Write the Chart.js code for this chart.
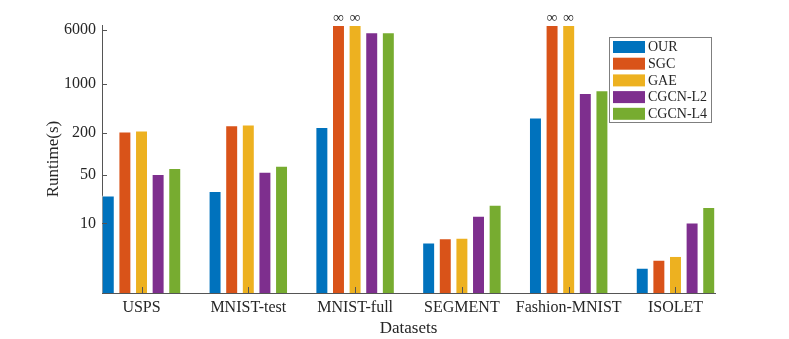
<!DOCTYPE html>
<html>
  <head>
    <meta charset="utf-8" />
    <title>Runtime by dataset</title>
    <style>
      html, body { margin: 0; padding: 0; background: #fff; }
      #wrap { width: 789px; height: 339px; }
    </style>
  </head>
  <body>
    <div id="wrap"><canvas id="screen"></canvas></div>
    <script src="https://cdn.jsdelivr.net/npm/chart.js@4/dist/chart.umd.min.js"></script>
    <script>
      // values (seconds); INF = bar drawn to the top with an ∞ mark
      const INF = Infinity;
      const categories = ["USPS", "MNIST-test", "MNIST-full", "SEGMENT", "Fashion-MNIST", "ISOLET"];
      const seriesNames = ["OUR", "SGC", "GAE", "CGCN-L2", "CGCN-L4"];
      const ourRuntime = [25, 29, 240, 5.3, 330, 2.3];
      const sgcRuntime = [207, 255, INF, 6.1, INF, 3.0];
      const gaeRuntime = [214, 261, INF, 6.2, INF, 3.4];
      const cgcnL2Runtime = [51, 55, 5500, 12.8, 740, 10.3];
      const cgcnL4Runtime = [62, 67, 5500, 18.4, 810, 17.2];
      const yTicks = [10, 50, 200, 1000, 6000];
      const yMin = 1;
      const yMax = 7000;

      const seriesValues = [ourRuntime, sgcRuntime, gaeRuntime, cgcnL2Runtime, cgcnL4Runtime];
      const seriesColors = ["#0072BD", "#D95319", "#EDB120", "#7E2F8E", "#77AC30"];

      const FONT = "'Liberation Serif', 'Times New Roman', serif";
      const INK = "#262626";
      const AXIS = "#555555";

      // inward tick marks, ∞ marks and the boxed legend
      const matlabBits = {
        id: "matlabBits",
        afterDatasetsDraw(chart) {
          const ctx = chart.ctx;
          const area = chart.chartArea;
          const xs = chart.scales.x;
          const ys = chart.scales.y;
          ctx.save();
          ctx.strokeStyle = AXIS;
          ctx.lineWidth = 1;
          ctx.beginPath();
          yTicks.forEach(v => {
            const py = Math.round(ys.getPixelForValue(v)) + 0.5;
            ctx.moveTo(area.left, py);
            ctx.lineTo(area.left + 5, py);
          });
          categories.forEach((c, i) => {
            const px = Math.round(xs.getPixelForValue(i)) + 0.5;
            ctx.moveTo(px, area.bottom);
            ctx.lineTo(px, area.bottom - 6);
          });
          ctx.stroke();

          // ∞ above the bars that never finished
          ctx.fillStyle = INK;
          ctx.font = "15px " + FONT;
          ctx.textAlign = "center";
          ctx.textBaseline = "bottom";
          seriesValues.forEach((vals, d) => {
            const meta = chart.getDatasetMeta(d);
            vals.forEach((v, i) => {
              if (v === INF) {
                const bar = meta.data[i];
                ctx.fillText("\u221E", bar.x, bar.y + 1);
              }
            });
          });

          // legend box
          const boxW = 102, boxH = 85, rowH = 16.7;
          const bx = area.right - 4 - boxW + 0.5;
          const by = area.top + 12 + 0.5;
          ctx.fillStyle = "#fff";
          ctx.fillRect(bx, by, boxW, boxH);
          ctx.strokeStyle = "#7f7f7f";
          ctx.strokeRect(bx, by, boxW, boxH);
          ctx.font = "14px " + FONT;
          ctx.textAlign = "left";
          ctx.textBaseline = "middle";
          seriesNames.forEach((name, k) => {
            const cy = by + 9.5 + k * rowH;
            ctx.fillStyle = seriesColors[k];
            ctx.fillRect(bx + 3.5, cy - 6, 32, 12);
            ctx.fillStyle = INK;
            ctx.fillText(name, bx + 38.5, cy + 0.5);
          });
          ctx.restore();
        }
      };

      const ctx = document.getElementById("screen").getContext("2d");

      const chart = new Chart(ctx, {
        type: "bar",
        data: {
          datasets: seriesNames.map((name, d) => ({
            label: name,
            data: seriesValues[d].map((v, i) => ({ x: i, y: v === INF ? yMax : v })),
            backgroundColor: seriesColors[d],
            borderColor: "rgba(255,255,255,0.55)",
            borderWidth: 1,
            categoryPercentage: 0.778,
            barPercentage: 0.78
          }))
        },
        options: {
          responsive: true,
          maintainAspectRatio: false,
          animation: false,
          layout: { padding: { top: 25, right: 74, left: 0, bottom: 0 } },
          plugins: {
            legend: { display: false },
            tooltip: { enabled: false }
          },
          scales: {
            x: {
              type: "linear",
              min: -0.37,
              max: categories.length - 1 + 0.37,
              offset: false,
              grid: { display: false, drawTicks: false, offset: false },
              border: { display: true, color: AXIS, width: 1 },
              afterBuildTicks: s => { s.ticks = categories.map((c, i) => ({ value: i })); },
              afterFit: s => { s.height = 46; },
              ticks: {
                padding: 5,
                color: INK,
                font: { family: FONT, size: 16 },
                maxRotation: 0,
                autoSkip: false,
                callback: v => categories[v]
              },
              title: {
                display: true,
                text: "Datasets",
                color: INK,
                font: { family: FONT, size: 17 },
                padding: { top: 0, bottom: 0 }
              }
            },
            y: {
              type: "logarithmic",
              min: yMin,
              max: yMax,
              grid: { display: false, drawTicks: false },
              border: { display: true, color: AXIS, width: 1 },
              afterBuildTicks: s => { s.ticks = yTicks.map(v => ({ value: v })); },
              afterFit: s => { s.width = 102; },
              ticks: {
                padding: 6,
                color: INK,
                font: { family: FONT, size: 16 },
                callback: v => String(v)
              },
              title: {
                display: true,
                text: "Runtime(s)",
                color: INK,
                font: { family: FONT, size: 17 },
                padding: { top: 43, bottom: 0 }
              }
            }
          }
        },
        plugins: [matlabBits]
      });
    </script>
  </body>
</html>
